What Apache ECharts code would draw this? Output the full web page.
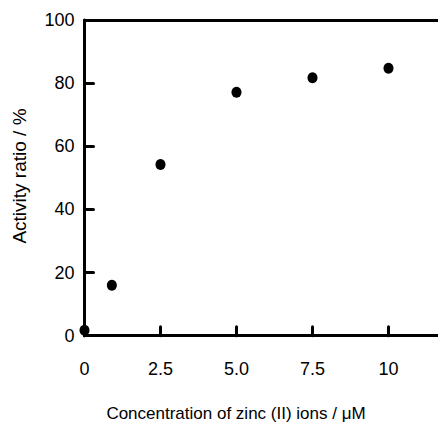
<!DOCTYPE html>
<html>
<head>
<meta charset="utf-8">
<script src="https://cdn.jsdelivr.net/npm/echarts@6/dist/echarts.min.js"></script>
<style>
html,body{margin:0;padding:0;background:#fff;}
#c{width:438px;height:422px;}
</style>
</head>
<body>
<div id="c"></div>
<script>
var xValues = [0, 0.9, 2.5, 5, 7.5, 10];
var yValues = [1.7, 16, 54.2, 77.1, 81.7, 84.7];
var xTickLabels = {'0':'0','2.5':'2.5','5':'5.0','7.5':'7.5','10':'10'};
var yTickValues = [0, 20, 40, 60, 80, 100];
var xTitle = 'Concentration of zinc (II) ions / \u03bcM';
var yTitle = 'Activity ratio / %';

var font = '"Liberation Sans", Arial, sans-serif';
var chart = echarts.init(document.getElementById('c'), null, {renderer:'svg'});
var pts = xValues.map(function(x,i){return [x, yValues[i]];});
chart.setOption({
  animation:false,
  backgroundColor:'#fff',
  grid:{left:84.5, top:20, bottom:86.3, right:-26.5, containLabel:false, outerBoundsMode:'none'},
  xAxis:[{
    type:'value', min:0, max:12.5, interval:2.5, z:10,
    splitLine:{show:false},
    axisLine:{show:true, onZero:false, lineStyle:{color:'#000', width:3}},
    axisTick:{show:true, inside:true, length:9, lineStyle:{color:'#000', width:3, cap:'round'}},
    axisLabel:{color:'#000', fontSize:18, fontFamily:font, margin:24, hideOverlap:false,
      formatter:function(v){var k=String(Math.round(v*10)/10); return xTickLabels[k]!==undefined?xTickLabels[k]:'';}}
  },{
    type:'value', position:'top', min:0, max:12.5,
    splitLine:{show:false},
    axisLine:{show:true, onZero:false, lineStyle:{color:'#000', width:3}},
    axisTick:{show:false}, axisLabel:{show:false}
  }],
  yAxis:{
    type:'value', min:0, max:100, interval:20, z:10,
    splitLine:{show:false},
    axisLine:{show:true, onZero:false, lineStyle:{color:'#000', width:3}},
    axisTick:{show:true, inside:true, length:9, lineStyle:{color:'#000', width:3, cap:'round'}},
    axisLabel:{color:'#000', fontSize:18, fontFamily:font, margin:10, hideOverlap:false,
      formatter:function(v){return yTickValues.indexOf(v)>=0?String(v):'';}}
  },
  graphic:[
    {type:'text', x:236, y:413, style:{text:xTitle, fill:'#000', fontSize:17, fontFamily:font, align:'center', verticalAlign:'middle'}},
    {type:'text', x:19.5, y:176, rotation:Math.PI/2, style:{text:yTitle, fill:'#000', fontSize:19, fontFamily:font, align:'center', verticalAlign:'middle'}}
  ],
  series:[{
    type:'scatter', data:pts, symbol:'circle', symbolSize:[10,11],
    clip:false,
    itemStyle:{color:'#000', opacity:1}
  }]
});
</script>
</body>
</html>
